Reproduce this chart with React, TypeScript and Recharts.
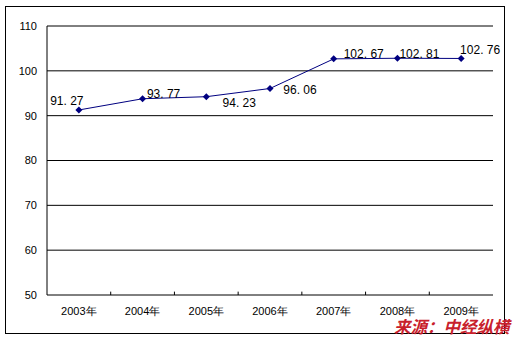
import React from 'react';
import {
  LineChart, Line, XAxis, YAxis, CartesianGrid, ReferenceLine, LabelList,
} from 'recharts';

const years = ['2003年', '2004年', '2005年', '2006年', '2007年', '2008年', '2009年'];
const values = [91.27, 93.77, 94.23, 96.06, 102.67, 102.81, 102.76];
const yTicks = [50, 60, 70, 80, 90, 100, 110];
const boundaryTicks = [1, 2, 3, 4, 5, 6];

// label offsets (style) relative to each point
const labelOffsets: [number, number][] = [
  [-12, -9], [21, -5], [33, 6], [30, 2], [30, -5], [22, -4], [19, -8],
];

const data = years.map((y, i) => ({ year: y, value: values[i], idx: i + 0.5 }));

const fmt = (v: number) => v.toFixed(2).replace('.', '. ');

const Diamond = (props: any) => {
  const { cx, cy } = props;
  if (cx == null || cy == null) return null;
  const r = 3.5;
  return (
    <path
      d={`M${cx},${cy - r}L${cx + r},${cy}L${cx},${cy + r}L${cx - r},${cy}Z`}
      fill="#000080"
      stroke="none"
    />
  );
};

const DataLabel = (props: any) => {
  const { x, y, value, index } = props;
  const [dx, dy] = labelOffsets[index] || [0, 0];
  return (
    <text
      x={x + dx}
      y={y + dy}
      textAnchor="middle"
      dominantBaseline="central"
      fontSize={12}
      fontFamily="'Liberation Sans', Arial, sans-serif"
      fill="#000000"
    >
      {fmt(value)}
    </text>
  );
};

export default function App() {
  return (
    <div style={{ position: 'absolute', left: 0, top: 0, width: 518, height: 339, background: '#fff' }}>
      <div
        style={{
          position: 'absolute', left: 5, top: 6, width: 498, height: 326,
          border: '1px solid #000', boxSizing: 'content-box',
        }}
      />
      <div style={{ position: 'absolute', left: 0, top: 0 }}>
        <LineChart
          width={518}
          height={339}
          data={data}
          margin={{ top: 26, right: 25, left: 7, bottom: 14 }}
        >
          <CartesianGrid vertical={false} stroke="#000" strokeOpacity={1} />
          <XAxis
            xAxisId="ticks"
            type="number"
            dataKey="idx"
            domain={[0, 7]}
            ticks={boundaryTicks}
            height={0}
            tick={false}
            tickLine={false}
            axisLine={{ stroke: '#000' }}
          />
          <XAxis
            dataKey="year"
            scale="band"
            height={30}
            axisLine={false}
            tickLine={false}
            tickSize={6}
            tickMargin={6}
            interval={0}
            tick={{ fontSize: 11, fill: '#000', fontFamily: "'Liberation Sans', Arial, sans-serif" }}
          />
          <YAxis
            domain={[50, 110]}
            ticks={yTicks}
            width={40}
            interval={0}
            tickLine={false}
            tickSize={6}
            tickMargin={4}
            axisLine={{ stroke: '#000' }}
            tick={{ fontSize: 11, fill: '#000', fontFamily: "'Liberation Sans', Arial, sans-serif" }}
          />
          <YAxis
            yAxisId="right"
            orientation="right"
            width={0}
            tick={false}
            tickLine={false}
            axisLine={{ stroke: '#808080' }}
          />
          <ReferenceLine y={110} stroke="#808080" />
          {boundaryTicks.map((b) => (
            <ReferenceLine
              key={b}
              xAxisId="ticks"
              segment={[{ x: b, y: 50 }, { x: b, y: 50.75 }]}
              stroke="#000"
            />
          ))}
          <Line
            type="linear"
            dataKey="value"
            stroke="#000080"
            strokeWidth={1}
            dot={<Diamond />}
            activeDot={false}
            isAnimationActive={false}
          >
            <LabelList dataKey="value" content={<DataLabel />} />
          </Line>
        </LineChart>
      </div>
      <div
        style={{
          position: 'absolute', left: 394, top: 317, fontSize: 16.5, fontWeight: 'bold',
          fontStyle: 'italic', color: '#c8202c', whiteSpace: 'nowrap', lineHeight: '18px',
          fontFamily: "'Noto Sans CJK SC', sans-serif",
        }}
      >
        来源：中经纵横
      </div>
    </div>
  );
}
